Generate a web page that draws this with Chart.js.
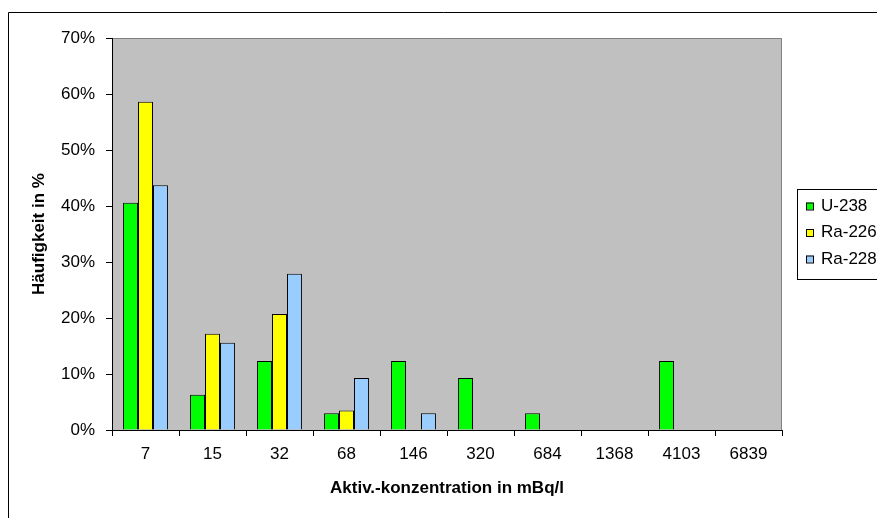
<!DOCTYPE html>
<html>
<head>
<meta charset="utf-8">
<script src="https://cdn.jsdelivr.net/npm/chart.js@4"></script>
<style>
  html, body { margin: 0; padding: 0; background: #fff; }
  #wrap { width: 877px; height: 518px; position: relative; }
</style>
</head>
<body>
<div id="wrap"><canvas id="chart" width="877" height="518"></canvas></div>
<script>
const categories = ['7', '15', '32', '68', '146', '320', '684', '1368', '4103', '6839'];
const u238  = [40.6, 6.3, 12.3, 3.0, 12.3, 9.3, 3.0, 0, 12.3, 0];
const ra226 = [58.6, 17.2, 20.7, 3.5, 0, 0, 0, 0, 0, 0];
const ra228 = [43.7, 15.6, 27.9, 9.3, 3.0, 0, 0, 0, 0, 0];
const seriesNames = ['U-238', 'Ra-226', 'Ra-228'];
const seriesColors = ['#00FF00', '#FFFF00', '#99CCFF'];

const FONT = "'Liberation Sans', Arial, sans-serif";

// gray plot area, outer frame and the boxed legend on the right
const decor = {
  id: 'decor',
  beforeDraw(chart) {
    const { ctx, chartArea: a } = chart;
    ctx.save();
    ctx.fillStyle = '#C0C0C0';
    ctx.fillRect(a.left, a.top, a.right - a.left, a.bottom - a.top);
    ctx.strokeStyle = '#808080';
    ctx.lineWidth = 1;
    ctx.beginPath();
    ctx.moveTo(a.left, a.top + 0.5);
    ctx.lineTo(a.right - 0.5, a.top + 0.5);
    ctx.lineTo(a.right - 0.5, a.bottom);
    ctx.stroke();
    // outer chart frame
    ctx.strokeStyle = '#000';
    ctx.beginPath();
    ctx.moveTo(8.5, 600);
    ctx.lineTo(8.5, 12.5);
    ctx.lineTo(900, 12.5);
    ctx.stroke();
    ctx.restore();
  },
  afterDraw(chart) {
    const { ctx } = chart;
    ctx.save();
    ctx.strokeStyle = '#000';
    ctx.lineWidth = 1;
    ctx.strokeRect(797.5, 189.5, 120, 90);
    ctx.font = '17px ' + FONT;
    ctx.textBaseline = 'middle';
    chart.data.datasets.forEach((ds, i) => {
      const y = 206 + i * 26.5;
      ctx.fillStyle = ds.backgroundColor;
      ctx.fillRect(806, y - 3.5, 7, 7);
      ctx.strokeRect(806.5, y - 3, 7, 7);
      ctx.fillStyle = '#000';
      ctx.fillText(ds.label, 821, y);
    });
    ctx.restore();
  }
};

new Chart(document.getElementById('chart'), {
  type: 'bar',
  data: {
    labels: categories,
    datasets: [u238, ra226, ra228].map((d, i) => ({
      label: seriesNames[i],
      data: d,
      backgroundColor: seriesColors[i],
      borderColor: '#000',
      borderWidth: 1,
      borderSkipped: 'start',
      categoryPercentage: 0.67,
      barPercentage: 1.0
    }))
  },
  options: {
    responsive: false,
    animation: false,
    layout: { padding: { left: 0, top: 38, right: 95, bottom: 0 } },
    plugins: { legend: { display: false }, tooltip: { enabled: false } },
    scales: {
      x: {
        offset: true,
        grid: { offset: true, drawOnChartArea: false, drawTicks: true, tickLength: 6, color: '#000' },
        border: { color: '#000', width: 1 },
        ticks: { color: '#000', font: { family: FONT, size: 17 }, padding: 8, maxRotation: 0 },
        title: {
          display: true, text: 'Aktiv.-konzentration in mBq/l', color: '#000',
          font: { family: FONT, size: 17, weight: 'bold' }, padding: { top: 0, bottom: 19 }
        },
        afterFit(s) { s.height = 88; }
      },
      y: {
        min: 0, max: 70,
        grid: { drawOnChartArea: false, drawTicks: true, tickLength: 6, color: '#000' },
        border: { color: '#000', width: 1 },
        ticks: {
          stepSize: 10, color: '#000', font: { family: FONT, size: 17 }, padding: 11,
          callback: v => v + '%'
        },
        title: {
          display: true, text: 'Häufigkeit in %', color: '#000',
          font: { family: FONT, size: 17, weight: 'bold' }, padding: { top: 29, bottom: 0 }
        },
        afterFit(s) { s.width = 112; }
      }
    }
  },
  plugins: [decor]
});
</script>
</body>
</html>
